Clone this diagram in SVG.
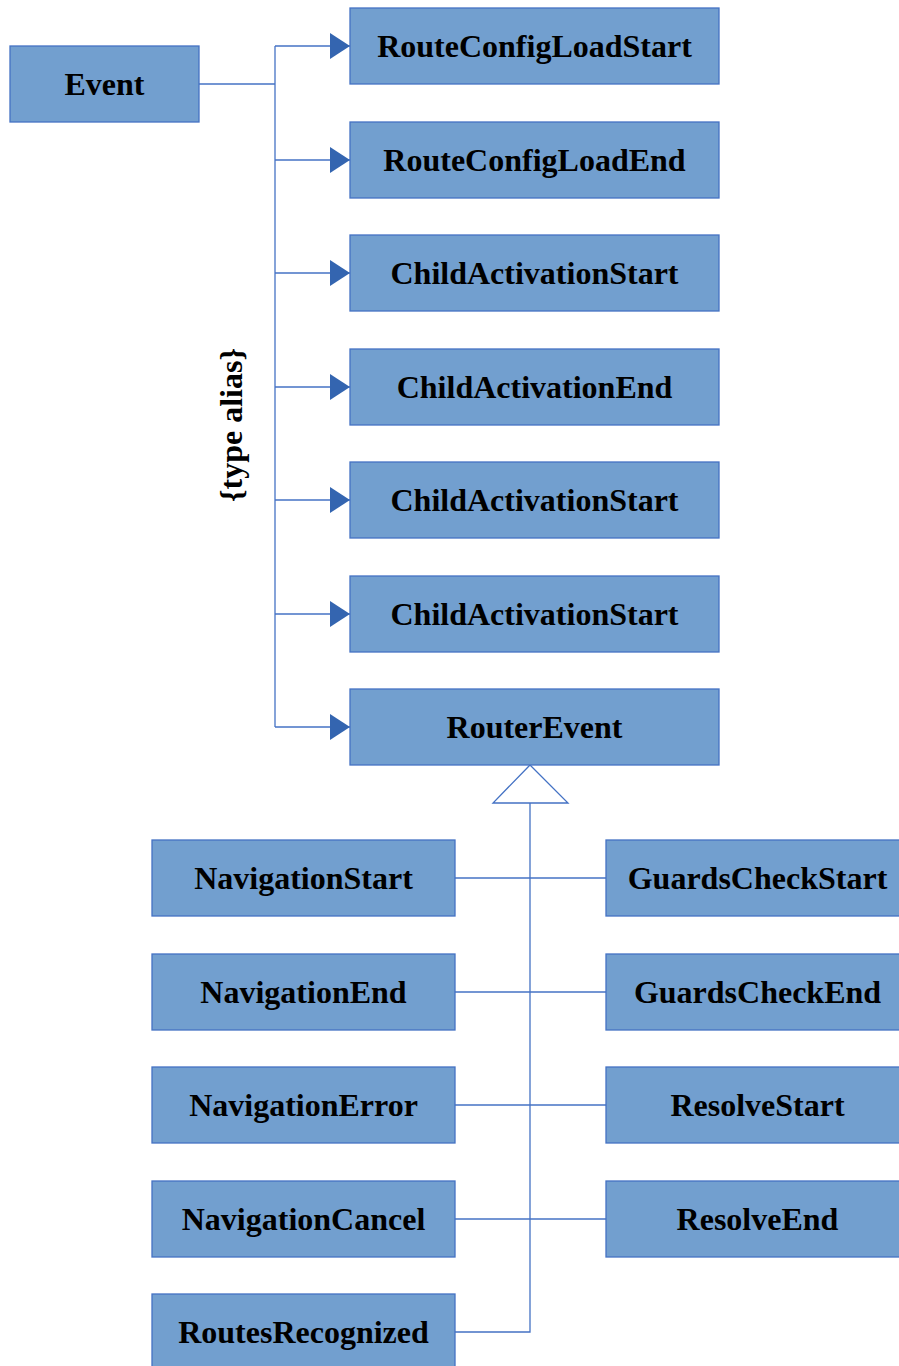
<svg xmlns="http://www.w3.org/2000/svg" width="899" height="1366" viewBox="0 0 899 1366">
<defs>
<style>
.box{fill:#729fcf;stroke:#4472c4;stroke-width:1.3}
.lbl{font-family:"Liberation Serif","Times New Roman",serif;font-weight:bold;font-size:32px;fill:#000;text-anchor:middle;dominant-baseline:central}
.ln{fill:none;stroke:#4472c4;stroke-width:1.3}
.ah{fill:#3465b0;stroke:none}
</style>
<marker id="arr" viewBox="0 0 20 26" refX="20" refY="13" markerWidth="20" markerHeight="26" markerUnits="userSpaceOnUse" orient="auto">
<path class="ah" d="M0,0 L20,13 L0,26 Z"/>
</marker>
</defs>
<rect width="899" height="1366" fill="#fff"/>
<g id="connectors">
<path class="ln" d="M199,84 H275"/>
<path class="ln" d="M275,46 V727"/>
<path class="ln" d="M275,46 H350" marker-end="url(#arr)"/>
<path class="ln" d="M275,160 H350" marker-end="url(#arr)"/>
<path class="ln" d="M275,273 H350" marker-end="url(#arr)"/>
<path class="ln" d="M275,387 H350" marker-end="url(#arr)"/>
<path class="ln" d="M275,500 H350" marker-end="url(#arr)"/>
<path class="ln" d="M275,614 H350" marker-end="url(#arr)"/>
<path class="ln" d="M275,727 H350" marker-end="url(#arr)"/>
<path class="ln" d="M530,765 L568,803 H493 Z" fill="#fff"/>
<path class="ln" d="M530,803 V1332 H455"/>
<path class="ln" d="M455,878 H606"/>
<path class="ln" d="M455,992 H606"/>
<path class="ln" d="M455,1105 H606"/>
<path class="ln" d="M455,1219 H606"/>
</g>
<text class="lbl" transform="translate(231,425) rotate(-90)">{type alias}</text>
<g id="n-event"><rect class="box" x="10" y="46" width="189" height="76"/><text class="lbl" x="104.5" y="84">Event</text></g>
<g id="n-rcls"><rect class="box" x="350" y="8" width="369" height="76"/><text class="lbl" x="534.5" y="46">RouteConfigLoadStart</text></g>
<g id="n-rcle"><rect class="box" x="350" y="122" width="369" height="76"/><text class="lbl" x="534.5" y="160">RouteConfigLoadEnd</text></g>
<g id="n-cas1"><rect class="box" x="350" y="235" width="369" height="76"/><text class="lbl" x="534.5" y="273">ChildActivationStart</text></g>
<g id="n-cae"><rect class="box" x="350" y="349" width="369" height="76"/><text class="lbl" x="534.5" y="387">ChildActivationEnd</text></g>
<g id="n-cas2"><rect class="box" x="350" y="462" width="369" height="76"/><text class="lbl" x="534.5" y="500">ChildActivationStart</text></g>
<g id="n-cas3"><rect class="box" x="350" y="576" width="369" height="76"/><text class="lbl" x="534.5" y="614">ChildActivationStart</text></g>
<g id="n-re"><rect class="box" x="350" y="689" width="369" height="76"/><text class="lbl" x="534.5" y="727">RouterEvent</text></g>
<g id="n-ns"><rect class="box" x="152" y="840" width="303" height="76"/><text class="lbl" x="303.5" y="878">NavigationStart</text></g>
<g id="n-ne"><rect class="box" x="152" y="954" width="303" height="76"/><text class="lbl" x="303.5" y="992">NavigationEnd</text></g>
<g id="n-nerr"><rect class="box" x="152" y="1067" width="303" height="76"/><text class="lbl" x="303.5" y="1105">NavigationError</text></g>
<g id="n-nc"><rect class="box" x="152" y="1181" width="303" height="76"/><text class="lbl" x="303.5" y="1219">NavigationCancel</text></g>
<g id="n-rr"><rect class="box" x="152" y="1294" width="303" height="76"/><text class="lbl" x="303.5" y="1332">RoutesRecognized</text></g>
<g id="n-gcs"><rect class="box" x="606" y="840" width="303" height="76"/><text class="lbl" x="757.5" y="878">GuardsCheckStart</text></g>
<g id="n-gce"><rect class="box" x="606" y="954" width="303" height="76"/><text class="lbl" x="757.5" y="992">GuardsCheckEnd</text></g>
<g id="n-rs"><rect class="box" x="606" y="1067" width="303" height="76"/><text class="lbl" x="757.5" y="1105">ResolveStart</text></g>
<g id="n-rend"><rect class="box" x="606" y="1181" width="303" height="76"/><text class="lbl" x="757.5" y="1219">ResolveEnd</text></g>
</svg>
